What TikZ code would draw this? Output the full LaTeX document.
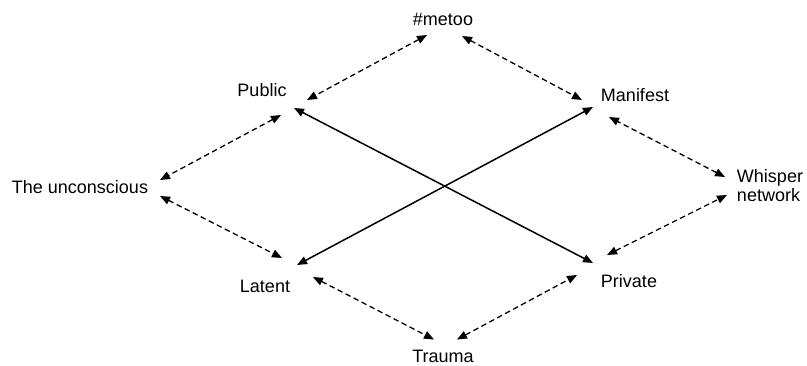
\documentclass[tikz,border=0pt]{standalone}
\usepackage{fontspec}
\setmainfont{Liberation Sans}
\usetikzlibrary{arrows.meta}
\definecolor{Ink}{HTML}{000000}
\tikzset{
  term/.style={inner sep=0pt,text height=13pt,text depth=4pt,text=Ink,font=\fontsize{18}{19}\selectfont},
  link/.style={{Triangle[length=10pt,width=8pt]}-{Triangle[length=10pt,width=8pt]},line width=1.3pt,dash pattern=on 5.5pt off 3.5pt,color=Ink},
  cross/.style={{Triangle[length=10pt,width=8pt]}-{Triangle[length=10pt,width=8pt]},line width=1.5pt,color=Ink}
}
\begin{document}
\begin{tikzpicture}[x=1pt,y=-1pt]
  \useasboundingbox (0,0) rectangle (807,366);
  \node[term] (metoo) at (443,21.5) {\#metoo};
  \node[term] (public) at (262,92.5) {Public};
  \node[term] (manifest) at (635,97.5) {Manifest};
  \node[term] (unconscious) at (80,189.5) {The unconscious};
  \node[inner sep=0pt,align=left,text=Ink,font=\fontsize{18}{19}\selectfont] (whisper) at (770,186) {Whisper\\network};
  \node[term] (latent) at (265,288.5) {Latent};
  \node[term] (private) at (629,283.5) {Private};
  \node[term,text depth=0pt,anchor=base] (trauma) at (443,362.5) {Trauma};
  \draw[link] ([shift={(-16,13.5)}]metoo.center) -- ([shift={(45,7.5)}]public.center);
  \draw[link] ([shift={(19,14.5)}]metoo.center) -- ([shift={(-53,2.5)}]manifest.center);
  \draw[link] ([shift={(19,22.5)}]public.center) -- ([shift={(80,-9.5)}]unconscious.center);
  \draw[link] ([shift={(80,6.5)}]unconscious.center) -- ([shift={(17,-30.5)}]latent.center);
  \draw[link] ([shift={(48,-11.5)}]latent.center) -- ([shift={(-9,-23)}]trauma.base);
  \draw[link] ([shift={(14,-23)}]trauma.base) -- ([shift={(-52,-8.5)}]private.center);
  \draw[link] ([shift={(-22,-28.5)}]private.center) -- ([shift={(-43,9)}]whisper.center);
  \draw[link] ([shift={(-45,-9)}]whisper.center) -- ([shift={(-26,19.5)}]manifest.center);
  \draw[cross] ([shift={(32,15.5)}]public.center) -- ([shift={(-36,-20.5)}]private.center);
  \draw[cross] ([shift={(32,-23.5)}]latent.center) -- ([shift={(-42,9.5)}]manifest.center);
\end{tikzpicture}
\end{document}
